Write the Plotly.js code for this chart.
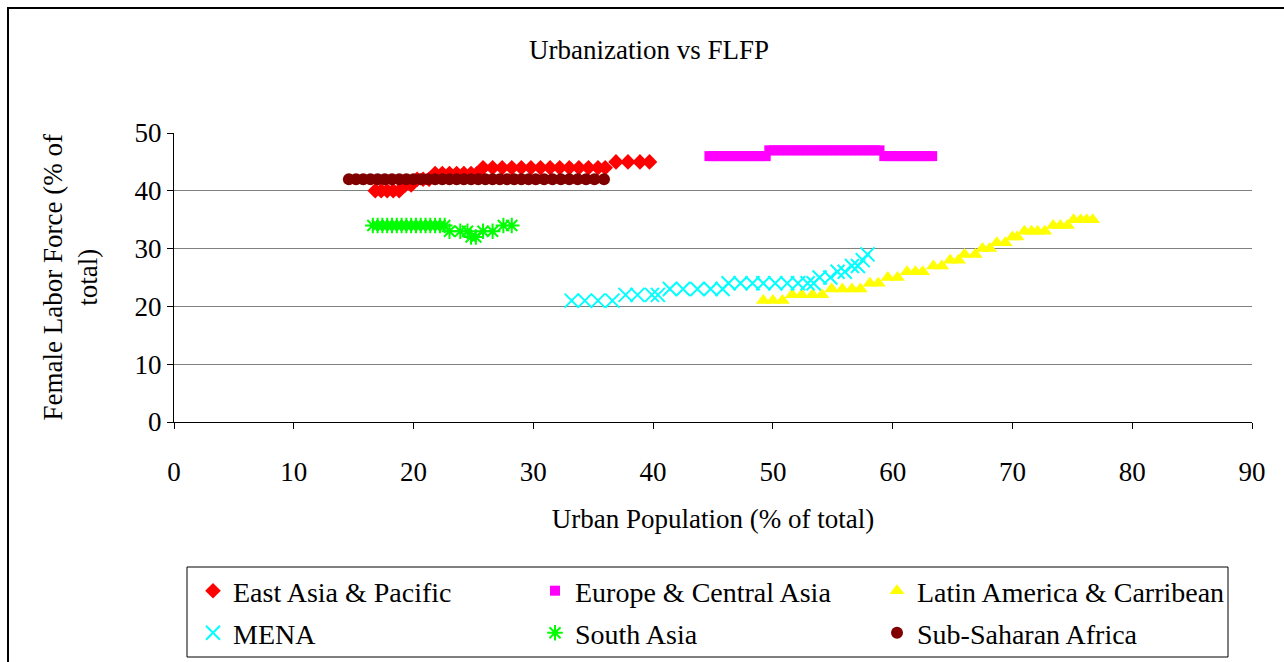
<!DOCTYPE html>
<html>
<head>
<meta charset="utf-8">
<script src="https://cdn.plot.ly/plotly-3.0.1.min.js"></script>
<style>html,body{margin:0;padding:0;background:#fff;}#chart{width:1284px;height:662px;}</style>
</head>
<body>
<div id="chart"></div>
<script>
// Series names
const seriesNames = ["East Asia & Pacific", "Europe & Central Asia", "Latin America & Carribean", "MENA", "South Asia", "Sub-Saharan Africa"];

// East Asia & Pacific
const eapX = [16.8, 17.3, 17.8, 18.3, 18.8, 19.3, 19.8, 20.3, 20.8, 21.3, 21.8, 22.4, 23.0, 23.6, 24.2, 24.8, 25.3,
  25.8, 26.6, 27.4, 28.2, 29.0, 29.8, 30.6, 31.4, 32.2, 33.0, 33.8, 34.6, 35.4, 36.0, 36.9, 37.9, 38.9, 39.7];
const eapY = [40, 40, 40, 40, 40, 41, 41, 42, 42, 42, 43, 43, 43, 43, 43, 43, 43,
  44, 44, 44, 44, 44, 44, 44, 44, 44, 44, 44, 44, 44, 44, 45, 45, 45, 45];

// Europe & Central Asia
const ecaX = [44.7, 45.0, 45.4, 45.8, 46.2, 46.6, 47.0, 47.4, 47.8, 48.2, 48.6, 49.0, 49.4,
  49.7, 50.1, 50.5, 50.9, 51.3, 51.7, 52.1, 52.5, 52.9, 53.3, 53.7, 54.1, 54.5, 54.9, 55.3, 55.7, 56.1, 56.5, 56.9, 57.3, 57.7, 58.1, 58.5, 58.9,
  59.3, 59.7, 60.1, 60.5, 60.9, 61.3, 61.7, 62.1, 62.5, 62.9, 63.3];
const ecaY = [46, 46, 46, 46, 46, 46, 46, 46, 46, 46, 46, 46, 46,
  47, 47, 47, 47, 47, 47, 47, 47, 47, 47, 47, 47, 47, 47, 47, 47, 47, 47, 47, 47, 47, 47, 47, 47,
  46, 46, 46, 46, 46, 46, 46, 46, 46, 46, 46];

// Latin America & Carribean
const lacX = [49.2, 50.0, 50.8, 51.6, 52.4, 53.3, 54.1, 54.9, 55.8, 56.6, 57.3, 58.1, 58.8, 59.6, 60.4, 61.2, 61.9, 62.5,
  63.4, 64.1, 64.8, 65.5, 66.0, 66.9, 67.5, 68.1, 68.7, 69.4, 70.0, 70.4, 71.0, 71.6, 72.1, 72.7, 73.4, 74.0, 74.6, 75.1, 75.7, 76.2, 76.7];
const lacY = [21, 21, 21, 22, 22, 22, 22, 23, 23, 23, 23, 24, 24, 25, 25, 26, 26, 26,
  27, 27, 28, 28, 29, 29, 30, 30, 31, 31, 32, 32, 33, 33, 33, 33, 34, 34, 34, 35, 35, 35, 35];

// MENA
const menaX = [33.2, 34.3, 35.4, 36.6, 37.7, 38.7, 39.9, 40.4, 41.4, 42.5, 43.7, 44.8, 45.8,
  46.3, 47.3, 48.3, 49.2, 50.2, 51.2, 52.1, 52.9, 53.4, 53.9, 54.8, 55.4, 56.0, 56.6, 57.1, 57.5, 57.9];
const menaY = [21, 21, 21, 21, 22, 22, 22, 22, 23, 23, 23, 23, 23,
  24, 24, 24, 24, 24, 24, 24, 24, 24, 25, 25, 26, 26, 27, 27, 28, 29];

// South Asia
const saX = [16.6, 17.0, 17.4, 17.8, 18.2, 18.6, 19.0, 19.4, 19.8, 20.2, 20.6, 21.0, 21.4, 21.8, 22.2, 22.6,
  23.0, 23.9, 24.5, 24.8, 25.2, 25.8, 26.6, 27.5, 28.2];
const saY = [34, 34, 34, 34, 34, 34, 34, 34, 34, 34, 34, 34, 34, 34, 34, 34,
  33, 33, 33, 32, 32, 33, 33, 34, 34];

// Sub-Saharan Africa
const ssaX = [14.6, 15.2, 15.8, 16.4, 17.0, 17.6, 18.2, 18.8, 19.4, 20.0, 20.6, 21.2, 21.8, 22.4, 23.0, 23.6, 24.2, 24.8,
  25.4, 26.0, 26.6, 27.2, 27.8, 28.4, 29.0, 29.6, 30.2, 30.9, 31.6, 32.3, 33.0, 33.7, 34.4, 35.1, 35.9];
const ssaY = [42, 42, 42, 42, 42, 42, 42, 42, 42, 42, 42, 42, 42, 42, 42, 42, 42, 42,
  42, 42, 42, 42, 42, 42, 42, 42, 42, 42, 42, 42, 42, 42, 42, 42, 42];

// Axis ticks and titles
const xTicks = [0, 10, 20, 30, 40, 50, 60, 70, 80, 90];
const yTicks = [0, 10, 20, 30, 40, 50];
const chartTitle = "Urbanization vs FLFP";
const xTitle = "Urban Population (% of total)";
const yTitle = "Female Labor Force (% of<br>total)";

const FONT = "Liberation Serif, Times New Roman, serif";
const FS = 27;

const traces = [
  {x: eapX, y: eapY, name: seriesNames[0], legend: "legend",
   marker: {symbol: "diamond", color: "#FF0000", size: 12}},
  {x: ecaX, y: ecaY, name: seriesNames[1], legend: "legend2",
   marker: {symbol: "square", color: "#FF00FF", size: 10}},
  {x: lacX, y: lacY, name: seriesNames[2], legend: "legend3",
   marker: {symbol: "triangle-up", color: "#FFFF00", size: 13}},
  {x: menaX, y: menaY, name: seriesNames[3], legend: "legend4",
   marker: {symbol: "x-thin-open", color: "#00FFFF", size: 14, line: {color: "#00FFFF", width: 2}}},
  {x: saX, y: saY, name: seriesNames[4], legend: "legend5",
   marker: {symbol: "asterisk-open", color: "#00FF00", size: 13, line: {color: "#00FF00", width: 2}}},
  {x: ssaX, y: ssaY, name: seriesNames[5], legend: "legend6",
   marker: {symbol: "circle", color: "#800000", size: 12}}
].map(t => Object.assign({type: "scatter", mode: "markers", hoverinfo: "skip"}, t));

// pixel helpers for layout placement (plot area 174..1252 x, 133..422 y)
const PL = 174, PR = 1252, PT = 133, PB = 422;
const px = v => (v - PL) / (PR - PL);
const py = v => (PB - v) / (PB - PT);

function leg(xpix, ypix) {
  return {x: xpix / 1284, y: 1 - ypix / 662, xref: "container", yref: "container",
    xanchor: "left", yanchor: "middle",
    bgcolor: "rgba(0,0,0,0)", borderwidth: 0, font: {family: FONT, size: 28, color: "#000"}};
}

const layout = {
  width: 1284, height: 662,
  margin: {l: PL, r: 1284 - PR, t: PT, b: 662 - PB, pad: 0, autoexpand: false},
  paper_bgcolor: "#fff", plot_bgcolor: "#fff",
  font: {family: FONT, size: FS, color: "#000"},
  title: {text: chartTitle, x: 649 / 1284, xref: "container", xanchor: "center",
    y: 1 - 50 / 662, yref: "container", yanchor: "middle",
    font: {family: FONT, size: FS, color: "#000"}},
  xaxis: {range: [0, 90], tickvals: xTicks, ticktext: xTicks.map(String),
    showgrid: false, zeroline: false, showline: true, linecolor: "#000", linewidth: 1,
    ticks: "outside", ticklen: 6, tickcolor: "#000", ticklabelstandoff: 20,
    tickfont: {family: FONT, size: FS, color: "#000"},
    title: {text: xTitle, standoff: 22, font: {family: FONT, size: FS, color: "#000"}}},
  yaxis: {range: [0, 50], tickvals: yTicks, ticktext: yTicks.map(String),
    showgrid: true, gridcolor: "#808080", gridwidth: 1, zeroline: false,
    showline: true, linecolor: "#000", linewidth: 1,
    ticks: "outside", ticklen: 6, tickcolor: "#000", ticklabelstandoff: 0,
    tickfont: {family: FONT, size: FS, color: "#000"}},
  annotations: [
    {text: yTitle, xref: "paper", yref: "paper", x: px(70), y: 0.5, xanchor: "center", yanchor: "middle",
     textangle: -90, showarrow: false, align: "center", font: {family: FONT, size: FS, color: "#000"}}
  ],
  showlegend: true,
  legend: leg(193, 591),
  legend2: leg(535, 591),
  legend3: leg(877, 591),
  legend4: leg(193, 633),
  legend5: leg(535, 633),
  legend6: leg(877, 633),
  shapes: [
    {type: "rect", xref: "paper", yref: "paper", x0: px(187), x1: px(1228), y0: py(657), y1: py(567),
     line: {color: "#000", width: 1}, fillcolor: "rgba(0,0,0,0)", layer: "above"},
    {type: "rect", xref: "paper", yref: "paper", x0: px(8), x1: px(1400), y0: py(800), y1: py(8),
     line: {color: "#000", width: 2}, fillcolor: "rgba(0,0,0,0)", layer: "above"}
  ]
};

Plotly.newPlot("chart", traces, layout, {staticPlot: true, displayModeBar: false});
</script>
</body>
</html>
